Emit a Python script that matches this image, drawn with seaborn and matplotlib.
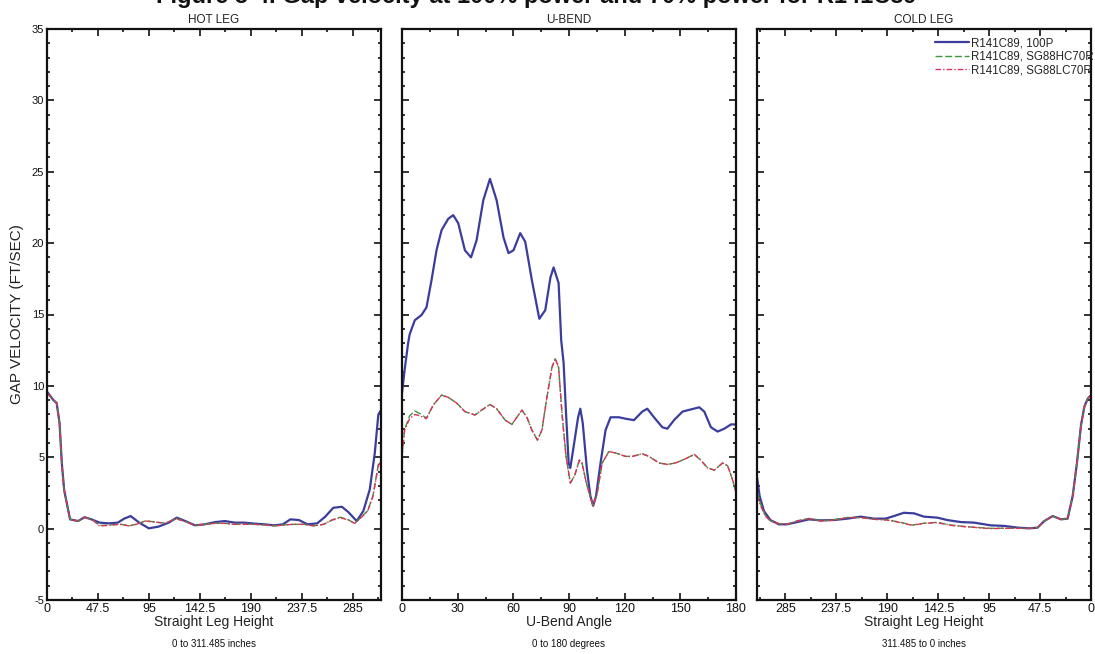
import numpy as np
import pandas as pd
import matplotlib.pyplot as plt
from matplotlib.ticker import MultipleLocator, FixedLocator
import seaborn as sns

# Series names
series = ['R141C89, 100P', 'R141C89, SG88HC70R', 'R141C89, SG88LC70R']

# HOT LEG (straight leg height, inches)
hot_x_blue = [0, 6, 9, 11.7, 13.8, 16, 21.5, 29, 35, 41.5, 49, 58, 66, 72, 78, 86, 95, 104, 113.6,
              121, 129, 138, 147, 157, 166, 175, 184, 193.5, 203, 212, 220, 227, 235, 243, 252,
              259.5, 267, 275, 281, 288.8, 295, 301, 305.7, 309, 311.485]
hot_y_blue = [9.6, 9.0, 8.8, 7.4, 4.6, 2.7, 0.65, 0.53, 0.8, 0.65, 0.42, 0.37, 0.42, 0.7, 0.88, 0.42,
              0.02, 0.14, 0.42, 0.77, 0.53, 0.23, 0.3, 0.46, 0.53, 0.42, 0.42, 0.35, 0.3, 0.23, 0.3,
              0.65, 0.6, 0.3, 0.37, 0.84, 1.46, 1.53, 1.16, 0.53, 1.23, 2.74, 5.3, 8.0, 8.3]
hot_x_red = [0, 6, 9, 11.7, 13.8, 16, 21.5, 29, 35, 43, 49, 58, 67.6, 76.8, 83, 92, 101, 110.6, 120,
             129, 138, 147, 157, 166, 175, 184, 193.5, 203, 212, 221, 230, 239.6, 249, 258, 266,
             273.6, 281, 287, 293, 299, 304, 309, 311.485]
hot_y_red = [9.5, 9.0, 8.8, 7.4, 4.6, 2.7, 0.65, 0.53, 0.8, 0.58, 0.19, 0.23, 0.3, 0.19, 0.3, 0.53,
             0.46, 0.37, 0.7, 0.49, 0.23, 0.3, 0.37, 0.37, 0.3, 0.3, 0.3, 0.26, 0.19, 0.26, 0.3,
             0.3, 0.19, 0.3, 0.6, 0.77, 0.6, 0.37, 0.77, 1.23, 2.27, 4.4, 4.7]
hot_y_green = [9.5, 9.0, 8.8, 7.4, 4.6, 2.7, 0.65, 0.53, 0.8, 0.6, 0.22, 0.25, 0.32, 0.2, 0.3, 0.55,
               0.46, 0.38, 0.72, 0.5, 0.23, 0.3, 0.38, 0.37, 0.3, 0.3, 0.3, 0.26, 0.2, 0.26, 0.3,
               0.3, 0.2, 0.3, 0.62, 0.8, 0.62, 0.37, 0.8, 1.25, 2.3, 4.5, 4.8]

# U-BEND (degrees)
ub_x_blue = [0, 1.4, 3.2, 4.1, 6.9, 10.5, 13.2, 15.9, 18.6, 21.3, 24.9, 27.6, 30.3, 33.9, 37.2, 40.2,
             43.8, 47.4, 51, 54.7, 57.4, 60.1, 63.7, 66.4, 70, 74, 77.2, 80, 81.7, 84.4, 85.8, 87.1,
             88.4, 89.8, 90.7, 92.5, 94.9, 96.1, 97.4, 99.7, 101.5, 103, 104.6, 107, 109.7, 112.4,
             116.9, 120.5, 125, 129.5, 132.2, 135.8, 140.3, 143, 146.6, 151.2, 155.7, 160.2, 162.9,
             166.5, 170.1, 173.7, 177.3, 180]
ub_y_blue = [9.5, 11.1, 12.9, 13.6, 14.6, 14.96, 15.5, 17.4, 19.5, 20.9, 21.7, 21.96, 21.4, 19.5, 19.0,
             20.2, 23.0, 24.5, 23.0, 20.4, 19.3, 19.5, 20.7, 20.1, 17.4, 14.7, 15.3, 17.6, 18.3,
             17.2, 13.2, 11.6, 8.1, 4.6, 4.25, 5.75, 7.8, 8.4, 7.4, 4.1, 2.3, 1.6, 2.3, 4.6, 6.9,
             7.8, 7.8, 7.7, 7.6, 8.2, 8.4, 7.8, 7.1, 7.0, 7.6, 8.2, 8.35, 8.5, 8.2, 7.1, 6.8, 7.0,
             7.3, 7.3]
ub_x_red = [0, 1.4, 4.1, 6.9, 9.6, 13.2, 16.8, 21.3, 24.9, 29.4, 33.9, 39.3, 42.9, 47.4, 51, 55.6,
            59.2, 61.9, 64.6, 67.3, 70, 73, 75.4, 78.1, 80.8, 82.6, 84.4, 86.2, 88.4, 90.7, 93,
            95.6, 97, 99.7, 103, 105.2, 107.9, 111.5, 115.1, 120.5, 124.1, 129.5, 133.1, 138.5,
            143, 147.5, 152.9, 157.5, 161, 164.7, 168.3, 172.8, 175.5, 178.2, 180]
ub_y_red = [5.06, 6.9, 7.7, 8.0, 7.9, 7.7, 8.65, 9.35, 9.2, 8.8, 8.2, 7.96, 8.3, 8.7, 8.4, 7.6, 7.3,
            7.8, 8.3, 7.8, 6.9, 6.2, 6.9, 9.2, 11.3, 11.9, 11.3, 8.1, 5.06, 3.2, 3.7, 4.8, 4.6, 3.0,
            1.6, 2.5, 4.6, 5.4, 5.3, 5.06, 5.06, 5.24, 5.06, 4.6, 4.5, 4.6, 4.9, 5.2, 4.8, 4.25,
            4.1, 4.6, 4.4, 3.4, 2.5]
ub_y_green = [5.06, 6.95, 7.9, 8.25, 8.05, 7.75, 8.65, 9.35, 9.2, 8.8, 8.2, 7.96, 8.3, 8.7, 8.4, 7.6,
              7.3, 7.8, 8.3, 7.8, 6.9, 6.2, 6.9, 9.2, 11.3, 11.9, 11.3, 8.1, 5.06, 3.2, 3.7, 4.8,
              4.6, 3.0, 1.6, 2.5, 4.6, 5.4, 5.3, 5.06, 5.06, 5.24, 5.06, 4.6, 4.5, 4.6, 4.9, 5.2,
              4.8, 4.25, 4.1, 4.6, 4.4, 3.4, 2.5]

# COLD LEG (axis runs from 311.485 down to 0)
cold_x_blue = [311.485, 309, 305, 299, 291, 283.5, 274, 263, 252, 240, 227, 215, 202.5, 191.6, 183.8,
               174.5, 165, 155.8, 143.3, 134, 121.5, 109, 93.5, 81, 68.5, 57.6, 49.8, 43.6, 35.8,
               28, 21.8, 17.1, 13.1, 9.3, 6.2, 3.1, 0]
cold_y_blue = [3.6, 2.27, 1.23, 0.6, 0.3, 0.3, 0.46, 0.65, 0.58, 0.6, 0.7, 0.84, 0.7, 0.7, 0.88, 1.11,
               1.07, 0.84, 0.77, 0.6, 0.46, 0.42, 0.23, 0.19, 0.07, 0.02, 0.07, 0.53, 0.88, 0.65,
               0.7, 2.27, 4.6, 7.26, 8.54, 9.1, 9.35]
cold_x_red = [311.485, 308, 303.7, 299, 291, 283.5, 274, 263, 252, 240, 227, 215, 202.5, 190, 177.6,
              166.7, 155.8, 143.3, 130.8, 118.4, 106, 93.5, 81, 68.5, 57.6, 49.8, 43.6, 35.8, 28,
              21.8, 17.1, 13.1, 9.3, 6.2, 3.1, 0]
cold_y_red = [2.3, 1.58, 0.88, 0.53, 0.35, 0.3, 0.53, 0.7, 0.53, 0.6, 0.77, 0.77, 0.65, 0.6, 0.42,
              0.23, 0.37, 0.42, 0.23, 0.14, 0.07, 0.0, 0.02, 0.02, 0.02, 0.07, 0.53, 0.88, 0.65,
              0.7, 2.27, 4.6, 7.26, 8.54, 9.1, 9.35]
cold_y_green = [2.6, 1.7, 0.92, 0.55, 0.35, 0.3, 0.55, 0.72, 0.55, 0.62, 0.78, 0.78, 0.66, 0.62, 0.44,
                0.25, 0.38, 0.44, 0.25, 0.15, 0.08, 0.02, 0.03, 0.02, 0.02, 0.07, 0.53, 0.88, 0.65,
                0.7, 2.27, 4.6, 7.26, 8.54, 9.1, 9.35]

panel_titles = ['HOT LEG', 'U-BEND', 'COLD LEG']
panel_xlabels = ['Straight Leg Height', 'U-Bend Angle', 'Straight Leg Height']
panel_notes = ['0 to 311.485 inches', '0 to 180 degrees', '311.485 to 0 inches']
leg_ticks = [0, 47.5, 95, 142.5, 190, 237.5, 285]
leg_ticklabels = ['0', '47.5', '95', '142.5', '190', '237.5', '285']
bend_ticks = [0, 30, 60, 90, 120, 150, 180]


def make_df(xb, yb, xr, yg, yr):
    parts = [pd.DataFrame({'x': xb, 'y': yb, 'series': series[0]}),
             pd.DataFrame({'x': xr, 'y': yg, 'series': series[1]}),
             pd.DataFrame({'x': xr, 'y': yr, 'series': series[2]})]
    return pd.concat(parts, ignore_index=True)


dfs = [make_df(hot_x_blue, hot_y_blue, hot_x_red, hot_y_green, hot_y_red),
       make_df(ub_x_blue, ub_y_blue, ub_x_red, ub_y_green, ub_y_red),
       make_df(cold_x_blue, cold_y_blue, cold_x_red, cold_y_green, cold_y_red)]

sns.set_theme(style='ticks')
plt.rcParams['font.family'] = ['Liberation Sans', 'DejaVu Sans']
plt.rcParams['axes.unicode_minus'] = False

palette = {series[0]: '#3a3d9c', series[1]: '#3a9a3a', series[2]: '#e0305c'}
dashes = {series[0]: '', series[1]: (5, 2), series[2]: (4, 1.5, 1, 1.5)}
widths = {series[0]: 1.6, series[1]: 1.0, series[2]: 1.0}

fig = plt.figure(figsize=(10.95, 6.54), dpi=100)
lefts = [47 / 1095, 402 / 1095, 757 / 1095]
axes = [fig.add_axes([l, 54 / 654, 334 / 1095, 571 / 654]) for l in lefts]

for i, (ax, df) in enumerate(zip(axes, dfs)):
    for s in series:
        sns.lineplot(data=df[df['series'] == s], x='x', y='y', ax=ax, color=palette[s],
                     linewidth=widths[s], legend=False, label=s, sort=False)
        if dashes[s]:
            ax.get_lines()[-1].set_dashes(dashes[s])

    ax.set_ylim(-5, 35)
    ax.yaxis.set_major_locator(MultipleLocator(5))
    ax.yaxis.set_minor_locator(MultipleLocator(1))
    if i == 1:
        ax.set_xlim(0, 180)
        ax.set_xticks(bend_ticks)
        ax.xaxis.set_minor_locator(MultipleLocator(15))
    else:
        ax.set_xlim(0, 311.485)
        ax.set_xticks(leg_ticks, leg_ticklabels)
        ax.xaxis.set_minor_locator(FixedLocator([23.75 + 47.5 * k for k in range(7)]))
        if i == 2:
            ax.invert_xaxis()

    ax.tick_params(which='both', direction='in', top=True, right=True, labelsize=8, pad=2,
                   width=1.2, colors='#111111')
    ax.tick_params(axis='x', labelsize=9)
    ax.tick_params(which='major', length=5)
    ax.tick_params(which='minor', length=2.5)
    if i > 0:
        ax.tick_params(axis='y', labelleft=False)
    for sp in ax.spines.values():
        sp.set_linewidth(1.6)
        sp.set_color('#111111')

    ax.set_title(panel_titles[i], fontsize=8.5, pad=4, color='#222222')
    ax.set_xlabel(panel_xlabels[i], fontsize=10, labelpad=0, color='#222222')
    ax.set_ylabel('')
    ax.text(0.5, -0.068, panel_notes[i], transform=ax.transAxes, ha='center', va='top',
            fontsize=7, color='#111111')

axes[0].set_ylabel('GAP VELOCITY (FT/SEC)', fontsize=11, labelpad=6, color='#222222')

leg = axes[2].legend(handles=axes[2].get_lines()[:3], labels=series, loc='upper left',
                     bbox_to_anchor=(0.51, 1.0), frameon=False, fontsize=8.3,
                     handlelength=2.9, handletextpad=0.2, labelspacing=0.15, borderaxespad=0.3)

fig.text(0.49, 1.005, 'Figure 5-4. Gap velocity at 100% power and 70% power for R141C89',
         ha='center', va='center', fontsize=17, fontweight='bold', color='#111111')

fig.savefig('out.png', dpi=100)
